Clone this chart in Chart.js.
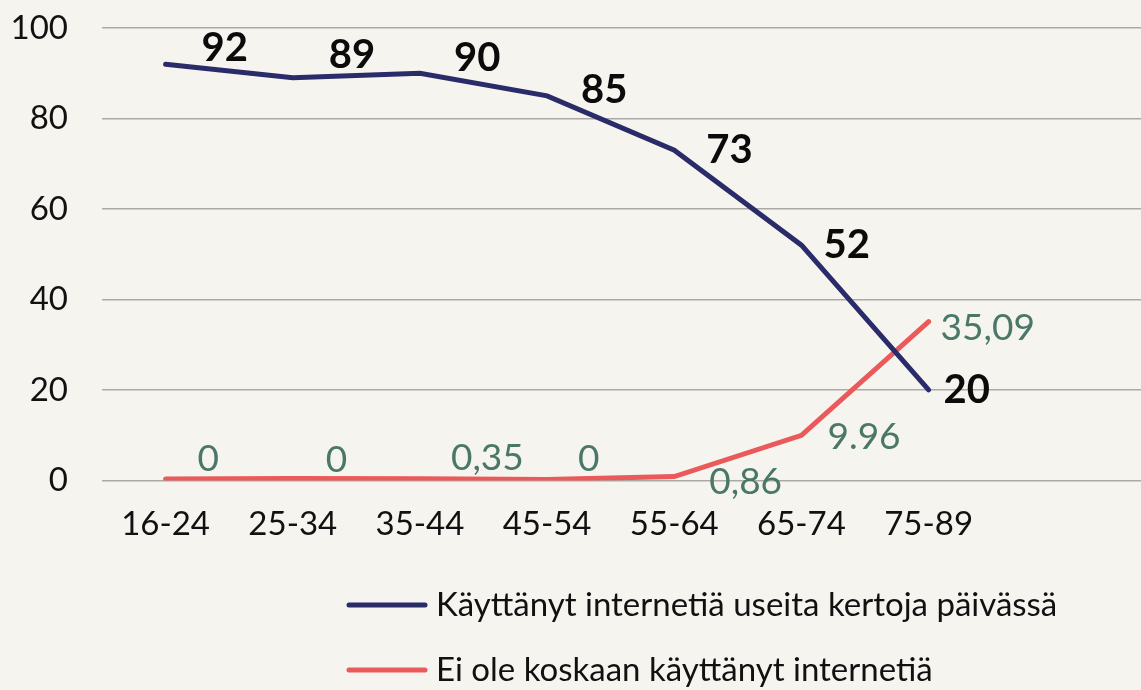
<!DOCTYPE html>
<html>
<head>
<meta charset="utf-8">
<script src="https://cdn.jsdelivr.net/npm/chart.js@4.4.0/dist/chart.umd.min.js"></script>
<style>
  html, body { margin: 0; padding: 0; background: #f6f4ef; }
  #wrap { width: 1141px; height: 690px; position: relative; }
</style>
</head>
<body>
<div id="wrap"><canvas id="chart" width="1141" height="690"></canvas></div>
<script>
const categories = ["16-24", "25-34", "35-44", "45-54", "55-64", "65-74", "75-89"];
const dailyUse = [92, 89, 90, 85, 73, 52, 20];
const neverUsed = [0.3, 0.4, 0.35, 0.2, 0.86, 9.96, 35.09];
const neverUsedLabels = ["0", "0", "0,35", "0", "0,86", "9.96", "35,09"];
const seriesNames = ["Käyttänyt internetiä useita kertoja päivässä", "Ei ole koskaan käyttänyt internetiä"];
const yTicks = [0, 20, 40, 60, 80, 100];

const FONT = "Lato, 'Noto Sans', sans-serif";

// label placement (left edge offset / vertical offset from the point)
const blueOffsets = [[36, -16], [36, -23], [34, -15], [34, -6], [32, 0], [22, 0], [15, 0]];
const redOffsets = [[32, -20], [33, -19], [31, -21], [31, -20], [35, 6], [26, 2], [12, 6]];

const toPoints = arr => arr.map((v, i) => ({ x: i, y: v }));

const valueLabels = {
    id: "valueLabels",
    afterDatasetsDraw(chart) {
        const ctx = chart.ctx;
        ctx.save();
        ctx.textAlign = "left";
        ctx.textBaseline = "middle";

        chart.getDatasetMeta(0).data.forEach((pt, i) => {
            ctx.font = "bold 40px " + FONT;
            ctx.fillStyle = "#0b0b0b";
            ctx.fillText(String(dailyUse[i]), pt.x + blueOffsets[i][0], pt.y + blueOffsets[i][1]);
        });

        chart.getDatasetMeta(1).data.forEach((pt, i) => {
            ctx.font = "37px " + FONT;
            ctx.fillStyle = "#4a7868";
            ctx.fillText(neverUsedLabels[i], pt.x + redOffsets[i][0], pt.y + redOffsets[i][1]);
        });
        ctx.restore();
    }
};

const sideLegend = {
    id: "sideLegend",
    afterDraw(chart) {
        const ctx = chart.ctx;
        ctx.save();
        chart.data.datasets.forEach((ds, i) => {
            const y = 605 + i * 65;
            ctx.strokeStyle = ds.borderColor;
            ctx.lineWidth = 5;
            ctx.lineCap = "round";
            ctx.beginPath();
            ctx.moveTo(349, y);
            ctx.lineTo(425, y);
            ctx.stroke();
            ctx.font = "33px " + FONT;
            ctx.fillStyle = "#111";
            ctx.textAlign = "left";
            ctx.textBaseline = "middle";
            ctx.fillText(ds.label, 436, y);
        });
        ctx.restore();
    }
};

new Chart(document.getElementById("chart"), {
    type: "line",
    data: {
        datasets: [
            {
                label: seriesNames[0],
                data: toPoints(dailyUse),
                borderColor: "#2a2b69",
                borderWidth: 5,
                borderCapStyle: "round",
                pointRadius: 0,
                tension: 0
            },
            {
                label: seriesNames[1],
                data: toPoints(neverUsed),
                borderColor: "#ea5a5a",
                borderWidth: 5,
                borderCapStyle: "round",
                pointRadius: 0,
                tension: 0
            }
        ]
    },
    options: {
        responsive: false,
        animation: false,
        layout: { padding: { top: 0, right: 0, bottom: 122, left: 0 } },
        plugins: {
            legend: { display: false },
            tooltip: { enabled: false }
        },
        scales: {
            x: {
                type: "linear",
                min: -0.5,
                max: 7.67,
                afterBuildTicks(scale) {
                    scale.ticks = categories.map((c, i) => ({ value: i }));
                },
                ticks: {
                    callback: v => categories[v],
                    font: { family: FONT, size: 33 },
                    color: "#111",
                    padding: 24,
                    maxRotation: 0,
                    autoSkip: false
                },
                grid: { display: false, drawTicks: false },
                border: { display: false }
            },
            y: {
                min: 0,
                max: 100,
                afterBuildTicks(scale) {
                    scale.ticks = yTicks.map(v => ({ value: v }));
                },
                afterFit(scale) {
                    scale.width = 102;
                    scale.paddingTop = 28;
                },
                ticks: {
                    font: { family: FONT, size: 33 },
                    color: "#111",
                    padding: 34
                },
                grid: { color: "#aaa9a5", lineWidth: 1.5, drawTicks: false },
                border: { display: false }
            }
        }
    },
    plugins: [valueLabels, sideLegend]
});
</script>
</body>
</html>
